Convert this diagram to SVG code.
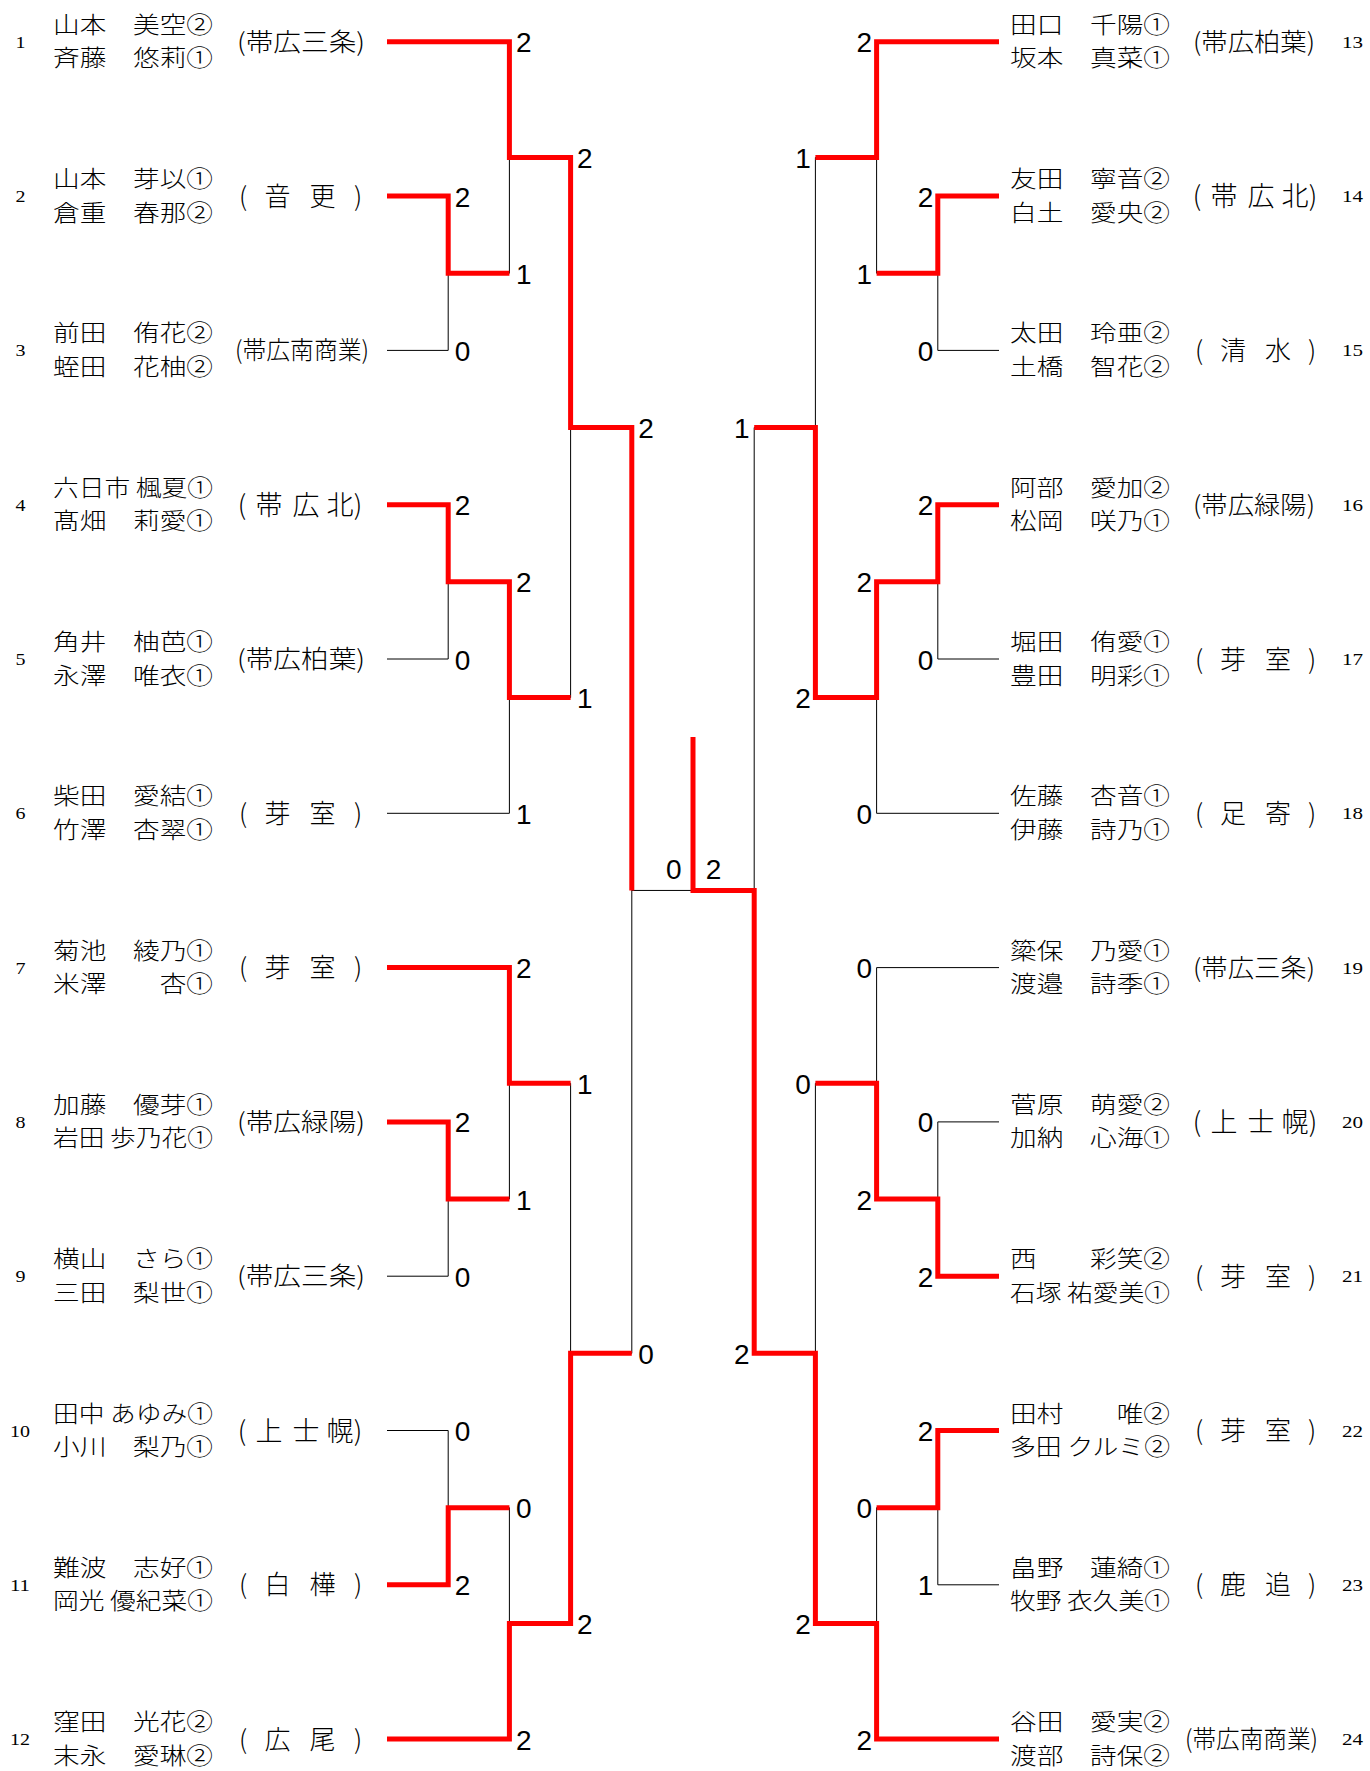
<svg xmlns="http://www.w3.org/2000/svg" width="1370" height="1771" viewBox="0 0 1370 1771">
<style>
.nm{font-family:"Noto Sans CJK JP","Noto Sans CJK SC",sans-serif;font-size:23px;font-weight:300;fill:#000}
.sc{font-family:"Noto Sans CJK JP","Noto Sans CJK SC",sans-serif;font-size:25px;font-weight:300;fill:#000}
.sp{font-family:"Noto Sans CJK JP","Noto Sans CJK SC",sans-serif;font-size:26px;font-weight:300;fill:#000;text-anchor:middle}
.s3{font-family:"Noto Sans CJK JP","Noto Sans CJK SC",sans-serif;font-size:27px;font-weight:300;fill:#000;text-anchor:middle}
.no{font-family:"Liberation Serif",serif;font-size:16px;fill:#000}
.pt{font-family:"Liberation Sans",Arial,sans-serif;font-size:28px;fill:#000}
.pr{text-anchor:end}
.blk{fill:none;stroke:#000;stroke-width:1}
.red{fill:none;stroke:#ff0000;stroke-width:5;stroke-linejoin:miter;stroke-linecap:butt}
</style>
<rect width="1370" height="1771" fill="#fff"/>

<g id="connectors">
<path class="blk" d="M387 41.8H509.4M387 196.1H448.2M387 350.4H448.2M387 504.7H448.2M387 659H448.2M387 813.3H509.4M387 967.6H509.4M387 1121.9H448.2M387 1276.2H448.2M387 1430.5H448.2M387 1584.8H448.2M387 1739.1H509.4
M448.2 196.1V350.4M448.2 273.25H509.4M448.2 504.7V659M448.2 581.85H509.4M448.2 1121.9V1276.2M448.2 1199.05H509.4M448.2 1430.5V1584.8M448.2 1507.65H509.4
M509.4 41.8V273.25M509.4 157.5H570.6M509.4 581.85V813.3M509.4 697.6H570.6M509.4 967.6V1199.05M509.4 1083.3H570.6M509.4 1507.65V1739.1M509.4 1623.4H570.6
M570.6 157.5V697.6M570.6 427.55H631.8M570.6 1083.3V1623.4M570.6 1353.35H631.8
M631.8 427.55V1353.35M631.8 890.45H693"/>
<path class="blk" d="M999 41.8H876.6M999 196.1H937.8M999 350.4H937.8M999 504.7H937.8M999 659H937.8M999 813.3H876.6M999 967.6H876.6M999 1121.9H937.8M999 1276.2H937.8M999 1430.5H937.8M999 1584.8H937.8M999 1739.1H876.6
M937.8 196.1V350.4M937.8 273.25H876.6M937.8 504.7V659M937.8 581.85H876.6M937.8 1121.9V1276.2M937.8 1199.05H876.6M937.8 1430.5V1584.8M937.8 1507.65H876.6
M876.6 41.8V273.25M876.6 157.5H815.4M876.6 581.85V813.3M876.6 697.6H815.4M876.6 967.6V1199.05M876.6 1083.3H815.4M876.6 1507.65V1739.1M876.6 1623.4H815.4
M815.4 157.5V697.6M815.4 427.55H754.2M815.4 1083.3V1623.4M815.4 1353.35H754.2
M754.2 427.55V1353.35M754.2 890.45H693"/>
<path class="red" d="M387 41.8H509.4V157.5H570.6V427.55H631.8V890.45"/>
<path class="red" d="M387 196.1H448.2V273.25H509.4"/>
<path class="red" d="M387 504.7H448.2V581.85H509.4V697.6H570.6"/>
<path class="red" d="M387 967.6H509.4V1083.3H570.6"/>
<path class="red" d="M387 1121.9H448.2V1199.05H509.4"/>
<path class="red" d="M387 1584.8H448.2V1507.65H509.4"/>
<path class="red" d="M387 1739.1H509.4V1623.4H570.6V1353.35H631.8"/>
<path class="red" d="M999 41.8H876.6V157.5H815.4"/>
<path class="red" d="M999 196.1H937.8V273.25H876.6"/>
<path class="red" d="M999 504.7H937.8V581.85H876.6V697.6H815.4V427.55H754.2"/>
<path class="red" d="M999 1276.2H937.8V1199.05H876.6V1083.3H815.4"/>
<path class="red" d="M999 1430.5H937.8V1507.65H876.6"/>
<path class="red" d="M999 1739.1H876.6V1623.4H815.4V1353.35H754.2V890.45H693V737"/>
</g>

<g id="scores">
<text class="pt" x="454.7" y="206.6">2</text>
<text class="pt" x="454.7" y="360.9">0</text>
<text class="pt" x="454.7" y="515.2">2</text>
<text class="pt" x="454.7" y="669.5">0</text>
<text class="pt" x="454.7" y="1132.4">2</text>
<text class="pt" x="454.7" y="1286.7">0</text>
<text class="pt" x="454.7" y="1441">0</text>
<text class="pt" x="454.7" y="1595.3">2</text>
<text class="pt" x="515.9" y="52.3">2</text>
<text class="pt" x="515.9" y="283.75">1</text>
<text class="pt" x="515.9" y="592.35">2</text>
<text class="pt" x="515.9" y="823.8">1</text>
<text class="pt" x="515.9" y="978.1">2</text>
<text class="pt" x="515.9" y="1209.55">1</text>
<text class="pt" x="515.9" y="1518.15">0</text>
<text class="pt" x="515.9" y="1749.6">2</text>
<text class="pt" x="577.1" y="168">2</text>
<text class="pt" x="577.1" y="708.1">1</text>
<text class="pt" x="577.1" y="1093.8">1</text>
<text class="pt" x="577.1" y="1633.9">2</text>
<text class="pt" x="638.3" y="438.05">2</text>
<text class="pt" x="638.3" y="1363.85">0</text>
<text class="pt pr" x="681.5" y="879">0</text>
<text class="pt" x="705.7" y="879">2</text>
<text class="pt pr" x="933.3" y="206.6">2</text>
<text class="pt pr" x="933.3" y="360.9">0</text>
<text class="pt pr" x="933.3" y="515.2">2</text>
<text class="pt pr" x="933.3" y="669.5">0</text>
<text class="pt pr" x="933.3" y="1132.4">0</text>
<text class="pt pr" x="933.3" y="1286.7">2</text>
<text class="pt pr" x="933.3" y="1441">2</text>
<text class="pt pr" x="933.3" y="1595.3">1</text>
<text class="pt pr" x="872.1" y="52.3">2</text>
<text class="pt pr" x="872.1" y="283.75">1</text>
<text class="pt pr" x="872.1" y="592.35">2</text>
<text class="pt pr" x="872.1" y="823.8">0</text>
<text class="pt pr" x="872.1" y="978.1">0</text>
<text class="pt pr" x="872.1" y="1209.55">2</text>
<text class="pt pr" x="872.1" y="1518.15">0</text>
<text class="pt pr" x="872.1" y="1749.6">2</text>
<text class="pt pr" x="810.9" y="168">1</text>
<text class="pt pr" x="810.9" y="708.1">2</text>
<text class="pt pr" x="810.9" y="1093.8">0</text>
<text class="pt pr" x="810.9" y="1633.9">2</text>
<text class="pt pr" x="749.7" y="438.05">1</text>
<text class="pt pr" x="749.7" y="1363.85">2</text>
</g>

<g id="team1"><text class="no" x="15.5" y="47.8" textLength="10" lengthAdjust="spacingAndGlyphs">1</text><text class="nm" x="53" y="32.8" textLength="160" lengthAdjust="spacingAndGlyphs">山本　美空②</text><text class="nm" x="53" y="66.3" textLength="160" lengthAdjust="spacingAndGlyphs">斉藤　悠莉①</text><text class="sc" x="237" y="50.8" textLength="128" lengthAdjust="spacingAndGlyphs">(帯広三条)</text></g>
<g id="team2"><text class="no" x="15.5" y="202.1" textLength="10" lengthAdjust="spacingAndGlyphs">2</text><text class="nm" x="53" y="187.1" textLength="160" lengthAdjust="spacingAndGlyphs">山本　芽以①</text><text class="nm" x="53" y="220.6" textLength="160" lengthAdjust="spacingAndGlyphs">倉重　春那②</text><text class="sp" x="243 260 277.5 300 322.5 340 358" y="205.6">( 音 更 )</text></g>
<g id="team3"><text class="no" x="15.5" y="356.4" textLength="10" lengthAdjust="spacingAndGlyphs">3</text><text class="nm" x="53" y="341.4" textLength="160" lengthAdjust="spacingAndGlyphs">前田　侑花②</text><text class="nm" x="53" y="374.9" textLength="160" lengthAdjust="spacingAndGlyphs">蛭田　花柚②</text><text class="sc" x="235" y="359.4" textLength="134" lengthAdjust="spacingAndGlyphs">(帯広南商業)</text></g>
<g id="team4"><text class="no" x="15.5" y="510.7" textLength="10" lengthAdjust="spacingAndGlyphs">4</text><text class="nm" x="53" y="495.7" textLength="160" lengthAdjust="spacingAndGlyphs">六日市 楓夏①</text><text class="nm" x="53" y="529.2" textLength="160" lengthAdjust="spacingAndGlyphs">髙畑　莉愛①</text><text class="s3" x="242 269 306 340 358" y="514.7">(帯広北)</text></g>
<g id="team5"><text class="no" x="15.5" y="665" textLength="10" lengthAdjust="spacingAndGlyphs">5</text><text class="nm" x="53" y="650" textLength="160" lengthAdjust="spacingAndGlyphs">角井　柚芭①</text><text class="nm" x="53" y="683.5" textLength="160" lengthAdjust="spacingAndGlyphs">永澤　唯衣①</text><text class="sc" x="237" y="668" textLength="128" lengthAdjust="spacingAndGlyphs">(帯広柏葉)</text></g>
<g id="team6"><text class="no" x="15.5" y="819.3" textLength="10" lengthAdjust="spacingAndGlyphs">6</text><text class="nm" x="53" y="804.3" textLength="160" lengthAdjust="spacingAndGlyphs">柴田　愛結①</text><text class="nm" x="53" y="837.8" textLength="160" lengthAdjust="spacingAndGlyphs">竹澤　杏翠①</text><text class="sp" x="243 260 277.5 300 322.5 340 358" y="822.8">( 芽 室 )</text></g>
<g id="team7"><text class="no" x="15.5" y="973.6" textLength="10" lengthAdjust="spacingAndGlyphs">7</text><text class="nm" x="53" y="958.6" textLength="160" lengthAdjust="spacingAndGlyphs">菊池　綾乃①</text><text class="nm" x="53" y="992.1" textLength="160" lengthAdjust="spacingAndGlyphs">米澤　　杏①</text><text class="sp" x="243 260 277.5 300 322.5 340 358" y="977.1">( 芽 室 )</text></g>
<g id="team8"><text class="no" x="15.5" y="1127.9" textLength="10" lengthAdjust="spacingAndGlyphs">8</text><text class="nm" x="53" y="1112.9" textLength="160" lengthAdjust="spacingAndGlyphs">加藤　優芽①</text><text class="nm" x="53" y="1146.4" textLength="160" lengthAdjust="spacingAndGlyphs">岩田 歩乃花①</text><text class="sc" x="237" y="1130.9" textLength="128" lengthAdjust="spacingAndGlyphs">(帯広緑陽)</text></g>
<g id="team9"><text class="no" x="15.5" y="1282.2" textLength="10" lengthAdjust="spacingAndGlyphs">9</text><text class="nm" x="53" y="1267.2" textLength="160" lengthAdjust="spacingAndGlyphs">横山　さら①</text><text class="nm" x="53" y="1300.7" textLength="160" lengthAdjust="spacingAndGlyphs">三田　梨世①</text><text class="sc" x="237" y="1285.2" textLength="128" lengthAdjust="spacingAndGlyphs">(帯広三条)</text></g>
<g id="team10"><text class="no" x="10" y="1436.5" textLength="20" lengthAdjust="spacingAndGlyphs">10</text><text class="nm" x="53" y="1421.5" textLength="160" lengthAdjust="spacingAndGlyphs">田中 あゆみ①</text><text class="nm" x="53" y="1455" textLength="160" lengthAdjust="spacingAndGlyphs">小川　梨乃①</text><text class="s3" x="242 269 306 340 358" y="1440.5">(上士幌)</text></g>
<g id="team11"><text class="no" x="10" y="1590.8" textLength="20" lengthAdjust="spacingAndGlyphs">11</text><text class="nm" x="53" y="1575.8" textLength="160" lengthAdjust="spacingAndGlyphs">難波　志好①</text><text class="nm" x="53" y="1609.3" textLength="160" lengthAdjust="spacingAndGlyphs">岡光 優紀菜①</text><text class="sp" x="243 260 277.5 300 322.5 340 358" y="1594.3">( 白 樺 )</text></g>
<g id="team12"><text class="no" x="10" y="1745.1" textLength="20" lengthAdjust="spacingAndGlyphs">12</text><text class="nm" x="53" y="1730.1" textLength="160" lengthAdjust="spacingAndGlyphs">窪田　光花②</text><text class="nm" x="53" y="1763.6" textLength="160" lengthAdjust="spacingAndGlyphs">末永　愛琳②</text><text class="sp" x="243 260 277.5 300 322.5 340 358" y="1748.6">( 広 尾 )</text></g>

<g id="team13"><text class="no" x="1342" y="47.8" textLength="21" lengthAdjust="spacingAndGlyphs">13</text><text class="nm" x="1010" y="32.8" textLength="160" lengthAdjust="spacingAndGlyphs">田口　千陽①</text><text class="nm" x="1010" y="66.3" textLength="160" lengthAdjust="spacingAndGlyphs">坂本　真菜①</text><text class="sc" x="1193" y="50.8" textLength="122" lengthAdjust="spacingAndGlyphs">(帯広柏葉)</text></g>
<g id="team14"><text class="no" x="1342" y="202.1" textLength="21" lengthAdjust="spacingAndGlyphs">14</text><text class="nm" x="1010" y="187.1" textLength="160" lengthAdjust="spacingAndGlyphs">友田　寧音②</text><text class="nm" x="1010" y="220.6" textLength="160" lengthAdjust="spacingAndGlyphs">白土　愛央②</text><text class="s3" x="1197 1224 1261 1295 1313" y="206.1">(帯広北)</text></g>
<g id="team15"><text class="no" x="1342" y="356.4" textLength="21" lengthAdjust="spacingAndGlyphs">15</text><text class="nm" x="1010" y="341.4" textLength="160" lengthAdjust="spacingAndGlyphs">太田　玲亜②</text><text class="nm" x="1010" y="374.9" textLength="160" lengthAdjust="spacingAndGlyphs">土橋　智花②</text><text class="sp" x="1199 1216 1233 1255 1278 1295 1312" y="359.9">( 清 水 )</text></g>
<g id="team16"><text class="no" x="1342" y="510.7" textLength="21" lengthAdjust="spacingAndGlyphs">16</text><text class="nm" x="1010" y="495.7" textLength="160" lengthAdjust="spacingAndGlyphs">阿部　愛加②</text><text class="nm" x="1010" y="529.2" textLength="160" lengthAdjust="spacingAndGlyphs">松岡　咲乃①</text><text class="sc" x="1193" y="513.7" textLength="122" lengthAdjust="spacingAndGlyphs">(帯広緑陽)</text></g>
<g id="team17"><text class="no" x="1342" y="665" textLength="21" lengthAdjust="spacingAndGlyphs">17</text><text class="nm" x="1010" y="650" textLength="160" lengthAdjust="spacingAndGlyphs">堀田　侑愛①</text><text class="nm" x="1010" y="683.5" textLength="160" lengthAdjust="spacingAndGlyphs">豊田　明彩①</text><text class="sp" x="1199 1216 1233 1255 1278 1295 1312" y="668.5">( 芽 室 )</text></g>
<g id="team18"><text class="no" x="1342" y="819.3" textLength="21" lengthAdjust="spacingAndGlyphs">18</text><text class="nm" x="1010" y="804.3" textLength="160" lengthAdjust="spacingAndGlyphs">佐藤　杏音①</text><text class="nm" x="1010" y="837.8" textLength="160" lengthAdjust="spacingAndGlyphs">伊藤　詩乃①</text><text class="sp" x="1199 1216 1233 1255 1278 1295 1312" y="822.8">( 足 寄 )</text></g>
<g id="team19"><text class="no" x="1342" y="973.6" textLength="21" lengthAdjust="spacingAndGlyphs">19</text><text class="nm" x="1010" y="958.6" textLength="160" lengthAdjust="spacingAndGlyphs">簗保　乃愛①</text><text class="nm" x="1010" y="992.1" textLength="160" lengthAdjust="spacingAndGlyphs">渡邉　詩季①</text><text class="sc" x="1193" y="976.6" textLength="122" lengthAdjust="spacingAndGlyphs">(帯広三条)</text></g>
<g id="team20"><text class="no" x="1342" y="1127.9" textLength="21" lengthAdjust="spacingAndGlyphs">20</text><text class="nm" x="1010" y="1112.9" textLength="160" lengthAdjust="spacingAndGlyphs">菅原　萌愛②</text><text class="nm" x="1010" y="1146.4" textLength="160" lengthAdjust="spacingAndGlyphs">加納　心海①</text><text class="s3" x="1197 1224 1261 1295 1313" y="1131.9">(上士幌)</text></g>
<g id="team21"><text class="no" x="1342" y="1282.2" textLength="21" lengthAdjust="spacingAndGlyphs">21</text><text class="nm" x="1010" y="1267.2" textLength="160" lengthAdjust="spacingAndGlyphs">西　　彩笑②</text><text class="nm" x="1010" y="1300.7" textLength="160" lengthAdjust="spacingAndGlyphs">石塚 祐愛美①</text><text class="sp" x="1199 1216 1233 1255 1278 1295 1312" y="1285.7">( 芽 室 )</text></g>
<g id="team22"><text class="no" x="1342" y="1436.5" textLength="21" lengthAdjust="spacingAndGlyphs">22</text><text class="nm" x="1010" y="1421.5" textLength="160" lengthAdjust="spacingAndGlyphs">田村　　唯②</text><text class="nm" x="1010" y="1455" textLength="160" lengthAdjust="spacingAndGlyphs">多田 クルミ②</text><text class="sp" x="1199 1216 1233 1255 1278 1295 1312" y="1440">( 芽 室 )</text></g>
<g id="team23"><text class="no" x="1342" y="1590.8" textLength="21" lengthAdjust="spacingAndGlyphs">23</text><text class="nm" x="1010" y="1575.8" textLength="160" lengthAdjust="spacingAndGlyphs">畠野　蓮綺①</text><text class="nm" x="1010" y="1609.3" textLength="160" lengthAdjust="spacingAndGlyphs">牧野 衣久美①</text><text class="sp" x="1199 1216 1233 1255 1278 1295 1312" y="1594.3">( 鹿 追 )</text></g>
<g id="team24"><text class="no" x="1342" y="1745.1" textLength="21" lengthAdjust="spacingAndGlyphs">24</text><text class="nm" x="1010" y="1730.1" textLength="160" lengthAdjust="spacingAndGlyphs">谷田　愛実②</text><text class="nm" x="1010" y="1763.6" textLength="160" lengthAdjust="spacingAndGlyphs">渡部　詩保②</text><text class="sc" x="1185" y="1748.1" textLength="133" lengthAdjust="spacingAndGlyphs">(帯広南商業)</text></g>
</svg>
